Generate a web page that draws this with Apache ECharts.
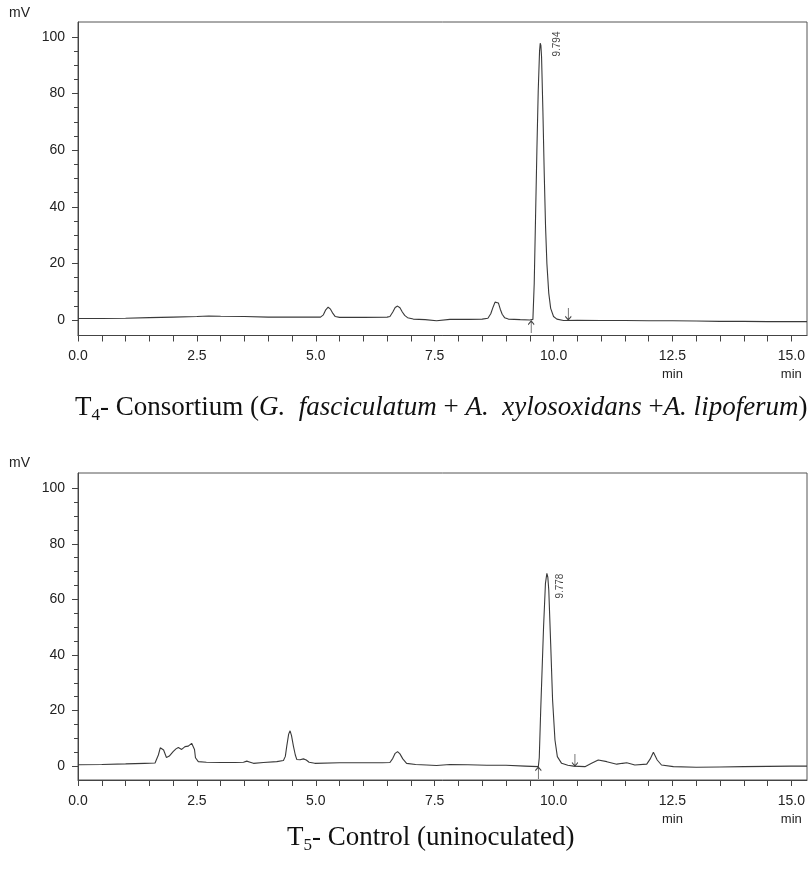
<!DOCTYPE html>
<html>
<head>
<meta charset="utf-8">
<script src="https://cdn.jsdelivr.net/npm/echarts@6/dist/echarts.min.js"></script>
<style>
  html, body { margin: 0; padding: 0; background: #fff; }
  #chart-container { width: 809px; height: 875px; }
</style>
</head>
<body>
<div id="chart-container"></div>
<script>
// T4 - consortium trace, [min, mV]
const t4Trace = [
  [0.00, 0.5], [0.50, 0.5], [1.00, 0.6], [1.50, 0.8], [2.00, 1.0], [2.50, 1.2], [2.75, 1.4],
  [3.00, 1.3], [3.50, 1.2], [4.00, 1.0], [4.50, 1.0], [5.00, 1.0], [5.10, 1.0], [5.16, 1.8],
  [5.21, 3.6], [5.26, 4.5], [5.31, 3.8], [5.36, 2.3], [5.41, 1.2], [5.50, 0.9], [6.00, 0.9],
  [6.50, 1.0], [6.56, 1.2], [6.62, 2.8], [6.67, 4.4], [6.72, 4.9], [6.77, 4.3], [6.82, 2.8],
  [6.87, 1.6], [6.93, 0.8], [7.05, 0.3], [7.30, 0.1], [7.54, -0.3], [7.82, 0.2], [8.20, 0.2],
  [8.50, 0.3], [8.62, 0.6], [8.68, 2.2], [8.73, 4.6], [8.77, 6.3], [8.80, 6.7], [8.84, 6.0],
  [8.88, 3.8], [8.92, 2.0], [8.97, 0.8], [9.05, 0.3], [9.30, 0.1], [9.50, 0.0], [9.566, 0.2],
  [9.594, 13], [9.622, 36.5], [9.650, 60], [9.678, 81], [9.706, 95], [9.720, 97.8], [9.734, 97.0],
  [9.748, 93], [9.776, 74], [9.804, 52], [9.832, 33], [9.86, 20], [9.90, 9.4], [9.94, 4.1],
  [10.00, 1.2], [10.07, 0.3], [10.21, -0.2], [10.50, -0.1], [11.00, -0.2], [11.50, -0.2],
  [12.00, -0.3], [12.50, -0.3], [13.00, -0.4], [13.50, -0.5], [14.00, -0.5], [14.50, -0.6],
  [15.00, -0.6], [15.33, -0.6]
];

// T5 - control trace, [min, mV]
const t5Trace = [
  [0.00, 0.5], [0.50, 0.6], [1.00, 0.8], [1.40, 1.0], [1.62, 1.1], [1.69, 4.0], [1.73, 6.6],
  [1.76, 7.2], [1.80, 5.8], [1.86, 3.1], [1.92, 3.6], [2.00, 5.2], [2.06, 6.2], [2.11, 6.7],
  [2.18, 6.0], [2.25, 7.0], [2.32, 7.2], [2.39, 8.2], [2.43, 7.5], [2.45, 6.0], [2.47, 3.0],
  [2.53, 1.6], [2.70, 1.4], [3.00, 1.3], [3.30, 1.3], [3.48, 1.4], [3.55, 1.8], [3.62, 1.4],
  [3.69, 1.0], [3.90, 1.3], [4.18, 1.6], [4.32, 2.0], [4.36, 3.5], [4.39, 7.2], [4.43, 11.5],
  [4.46, 12.7], [4.49, 11.0], [4.53, 7.2], [4.57, 4.0], [4.60, 2.4], [4.67, 2.3], [4.74, 2.6],
  [4.80, 2.2], [4.86, 1.4], [4.98, 1.0], [5.50, 1.2], [6.00, 1.2], [6.40, 1.2], [6.56, 1.3],
  [6.62, 2.8], [6.67, 4.6], [6.72, 5.2], [6.77, 4.4], [6.83, 2.6], [6.91, 1.0], [7.10, 0.6],
  [7.33, 0.4], [7.54, 0.2], [7.82, 0.6], [8.20, 0.5], [8.60, 0.3], [9.00, 0.3], [9.40, 0.0],
  [9.68, -0.2], [9.70, 3], [9.73, 20], [9.79, 50], [9.83, 65.8], [9.86, 69.4], [9.88, 68.0],
  [9.90, 63.4], [9.94, 44], [9.98, 23.8], [10.03, 9.4], [10.08, 3.4], [10.17, 1.0], [10.30, 0.3],
  [10.42, 0.0], [10.66, -0.2], [10.80, 1.0], [10.94, 2.2], [11.12, 1.6], [11.33, 0.7],
  [11.45, 1.0], [11.54, 1.2], [11.71, 0.4], [11.96, 0.7], [12.03, 2.5], [12.10, 5.0],
  [12.14, 4.6], [12.18, 2.2], [12.27, 0.4], [12.52, -0.2], [13.00, -0.4], [13.50, -0.3],
  [14.00, -0.2], [14.50, -0.1], [15.00, 0.0], [15.33, 0.0]
];

// retention time labels [min, mV, text]
const t4PeakLabels = [[10.07, 97.5, '9.794']];
const t5PeakLabels = [[10.14, 64.8, '9.778']];

// integration start / end marks (min)
const t4Marks = [9.53, 10.31];
const t5Marks = [9.68, 10.45];

const xLabelValues = [0, 2.5, 5, 7.5, 10, 12.5, 15];
const xTickValues = [0, 0.5, 1, 1.5, 2, 2.5, 3, 3.5, 4, 4.5, 5, 5.5, 6, 6.5, 7, 7.5, 8, 8.5, 9, 9.5,
  10, 10.5, 11, 11.5, 12, 12.5, 13, 13.5, 14, 14.5, 15];
const yLabelValues = [0, 20, 40, 60, 80, 100];
const yMinorValues = [0, 5, 10, 15, 20, 25, 30, 35, 40, 45, 50, 55, 60, 65, 70, 75, 80, 85, 90, 95, 100];

const axisColor = '#444';
const textColor = '#222';
const sans = 'Liberation Sans, Arial, sans-serif';
const serif = 'Liberation Serif, Times New Roman, serif';

const upArrow = 'path://M4,0 L4,20 M1,6 L4,0 L7,6';
const downArrow = 'path://M4,20 L4,0 M1,14 L4,20 L7,14';

function xAxisFor(gridIndex) {
  return {
    gridIndex: gridIndex, type: 'value', min: 0, max: 15.33,
    axisLine: { show: true, onZero: false, lineStyle: { color: axisColor } },
    axisTick: { show: true, customValues: xTickValues, length: 6, lineStyle: { color: axisColor } },
    axisLabel: {
      customValues: xLabelValues, margin: 12, color: textColor, fontSize: 14, fontFamily: sans,
      lineHeight: 18,
      formatter: v => v >= 12.5 ? v.toFixed(1) + '\n{u|min}' : v.toFixed(1),
      rich: { u: { fontSize: 13, lineHeight: 18, color: textColor, fontFamily: sans } }
    },
    splitLine: { show: false }
  };
}

function yAxesFor(gridIndex, min, max) {
  return [{
    gridIndex: gridIndex, type: 'value', min: min, max: max, position: 'left',
    axisLine: { show: true, onZero: false, lineStyle: { color: axisColor } },
    axisTick: { show: true, customValues: yLabelValues, length: 6, lineStyle: { color: axisColor } },
    axisLabel: { customValues: yLabelValues, margin: 13, color: textColor, fontSize: 14, fontFamily: sans },
    splitLine: { show: false }
  }, {
    gridIndex: gridIndex, type: 'value', min: min, max: max, position: 'left',
    axisLine: { show: false, onZero: false },
    axisTick: { show: true, customValues: yMinorValues, length: 4, lineStyle: { color: axisColor } },
    axisLabel: { show: false },
    splitLine: { show: false }
  }];
}

function traceSeries(data, xi, yi) {
  return {
    type: 'line', data: data, xAxisIndex: xi, yAxisIndex: yi,
    showSymbol: false, smooth: false,
    lineStyle: { color: '#3a3a3a', width: 1.1 }
  };
}

function labelSeries(data, xi, yi) {
  return {
    type: 'scatter', data: data, xAxisIndex: xi, yAxisIndex: yi, symbolSize: 0,
    label: {
      show: true, position: 'inside', rotate: 90, formatter: p => p.data[2],
      fontSize: 10, color: '#111', fontFamily: sans
    }
  };
}

function markSeries(marks, xi, yi) {
  return {
    type: 'scatter', xAxisIndex: xi, yAxisIndex: yi,
    data: [
      { value: [marks[0], 0], symbol: upArrow, symbolOffset: [0, 7] },
      { value: [marks[1], 0], symbol: downArrow, symbolOffset: [0, -6] }
    ],
    symbolSize: [6, 12], symbolKeepAspect: false,
    itemStyle: { color: 'rgba(0,0,0,0)', borderColor: '#111', borderWidth: 1 }
  };
}

const captionRich = {
  n: { fontSize: 27, fontFamily: serif, fontWeight: 'normal', color: '#111', lineHeight: 30 },
  i: { fontSize: 27, fontFamily: serif, fontWeight: 'normal', fontStyle: 'italic', color: '#111', lineHeight: 30 },
  s: { fontSize: 17, fontFamily: serif, fontWeight: 'normal', color: '#111', padding: [16, 0, 0, 0] }
};

const chartOption = {
  animation: false,
  backgroundColor: '#fff',
  title: [
    { text: 'mV', left: 9, top: 6, padding: 0,
      textStyle: { fontSize: 14, fontWeight: 'normal', color: textColor, fontFamily: sans } },
    { text: 'mV', left: 9, top: 456, padding: 0,
      textStyle: { fontSize: 14, fontWeight: 'normal', color: textColor, fontFamily: sans } },
    {
      text: '{n|T}{s|4}{n|- Consortium (}{i|G.  fasciculatum}{n| + }{i|A.  xylosoxidans}{n| +}{i|A. lipoferum}{n|)}',
      left: 75, top: 391, padding: 0,
      textStyle: { fontWeight: 'normal', rich: captionRich }
    },
    {
      text: '{n|T}{s|5}{n|- Control (uninoculated)}',
      left: 287, top: 821, padding: 0,
      textStyle: { fontWeight: 'normal', rich: captionRich }
    }
  ],
  grid: [
    { left: 78, top: 22, width: 729, height: 313.5, show: true, borderColor: '#555', borderWidth: 1, backgroundColor: '#fff' },
    { left: 78, top: 473, width: 729, height: 307, show: true, borderColor: '#555', borderWidth: 1, backgroundColor: '#fff' }
  ],
  xAxis: [xAxisFor(0), xAxisFor(1)],
  yAxis: yAxesFor(0, -5.5, 105.3).concat(yAxesFor(1, -5.0, 105.5)),
  series: [
    traceSeries(t4Trace, 0, 0),
    labelSeries(t4PeakLabels, 0, 0),
    markSeries(t4Marks, 0, 0),
    traceSeries(t5Trace, 1, 2),
    labelSeries(t5PeakLabels, 1, 2),
    markSeries(t5Marks, 1, 2)
  ]
};

const chartContainer = document.getElementById('chart-container');
const chart = echarts.init(chartContainer);
chart.setOption(chartOption);
</script>
</body>
</html>
